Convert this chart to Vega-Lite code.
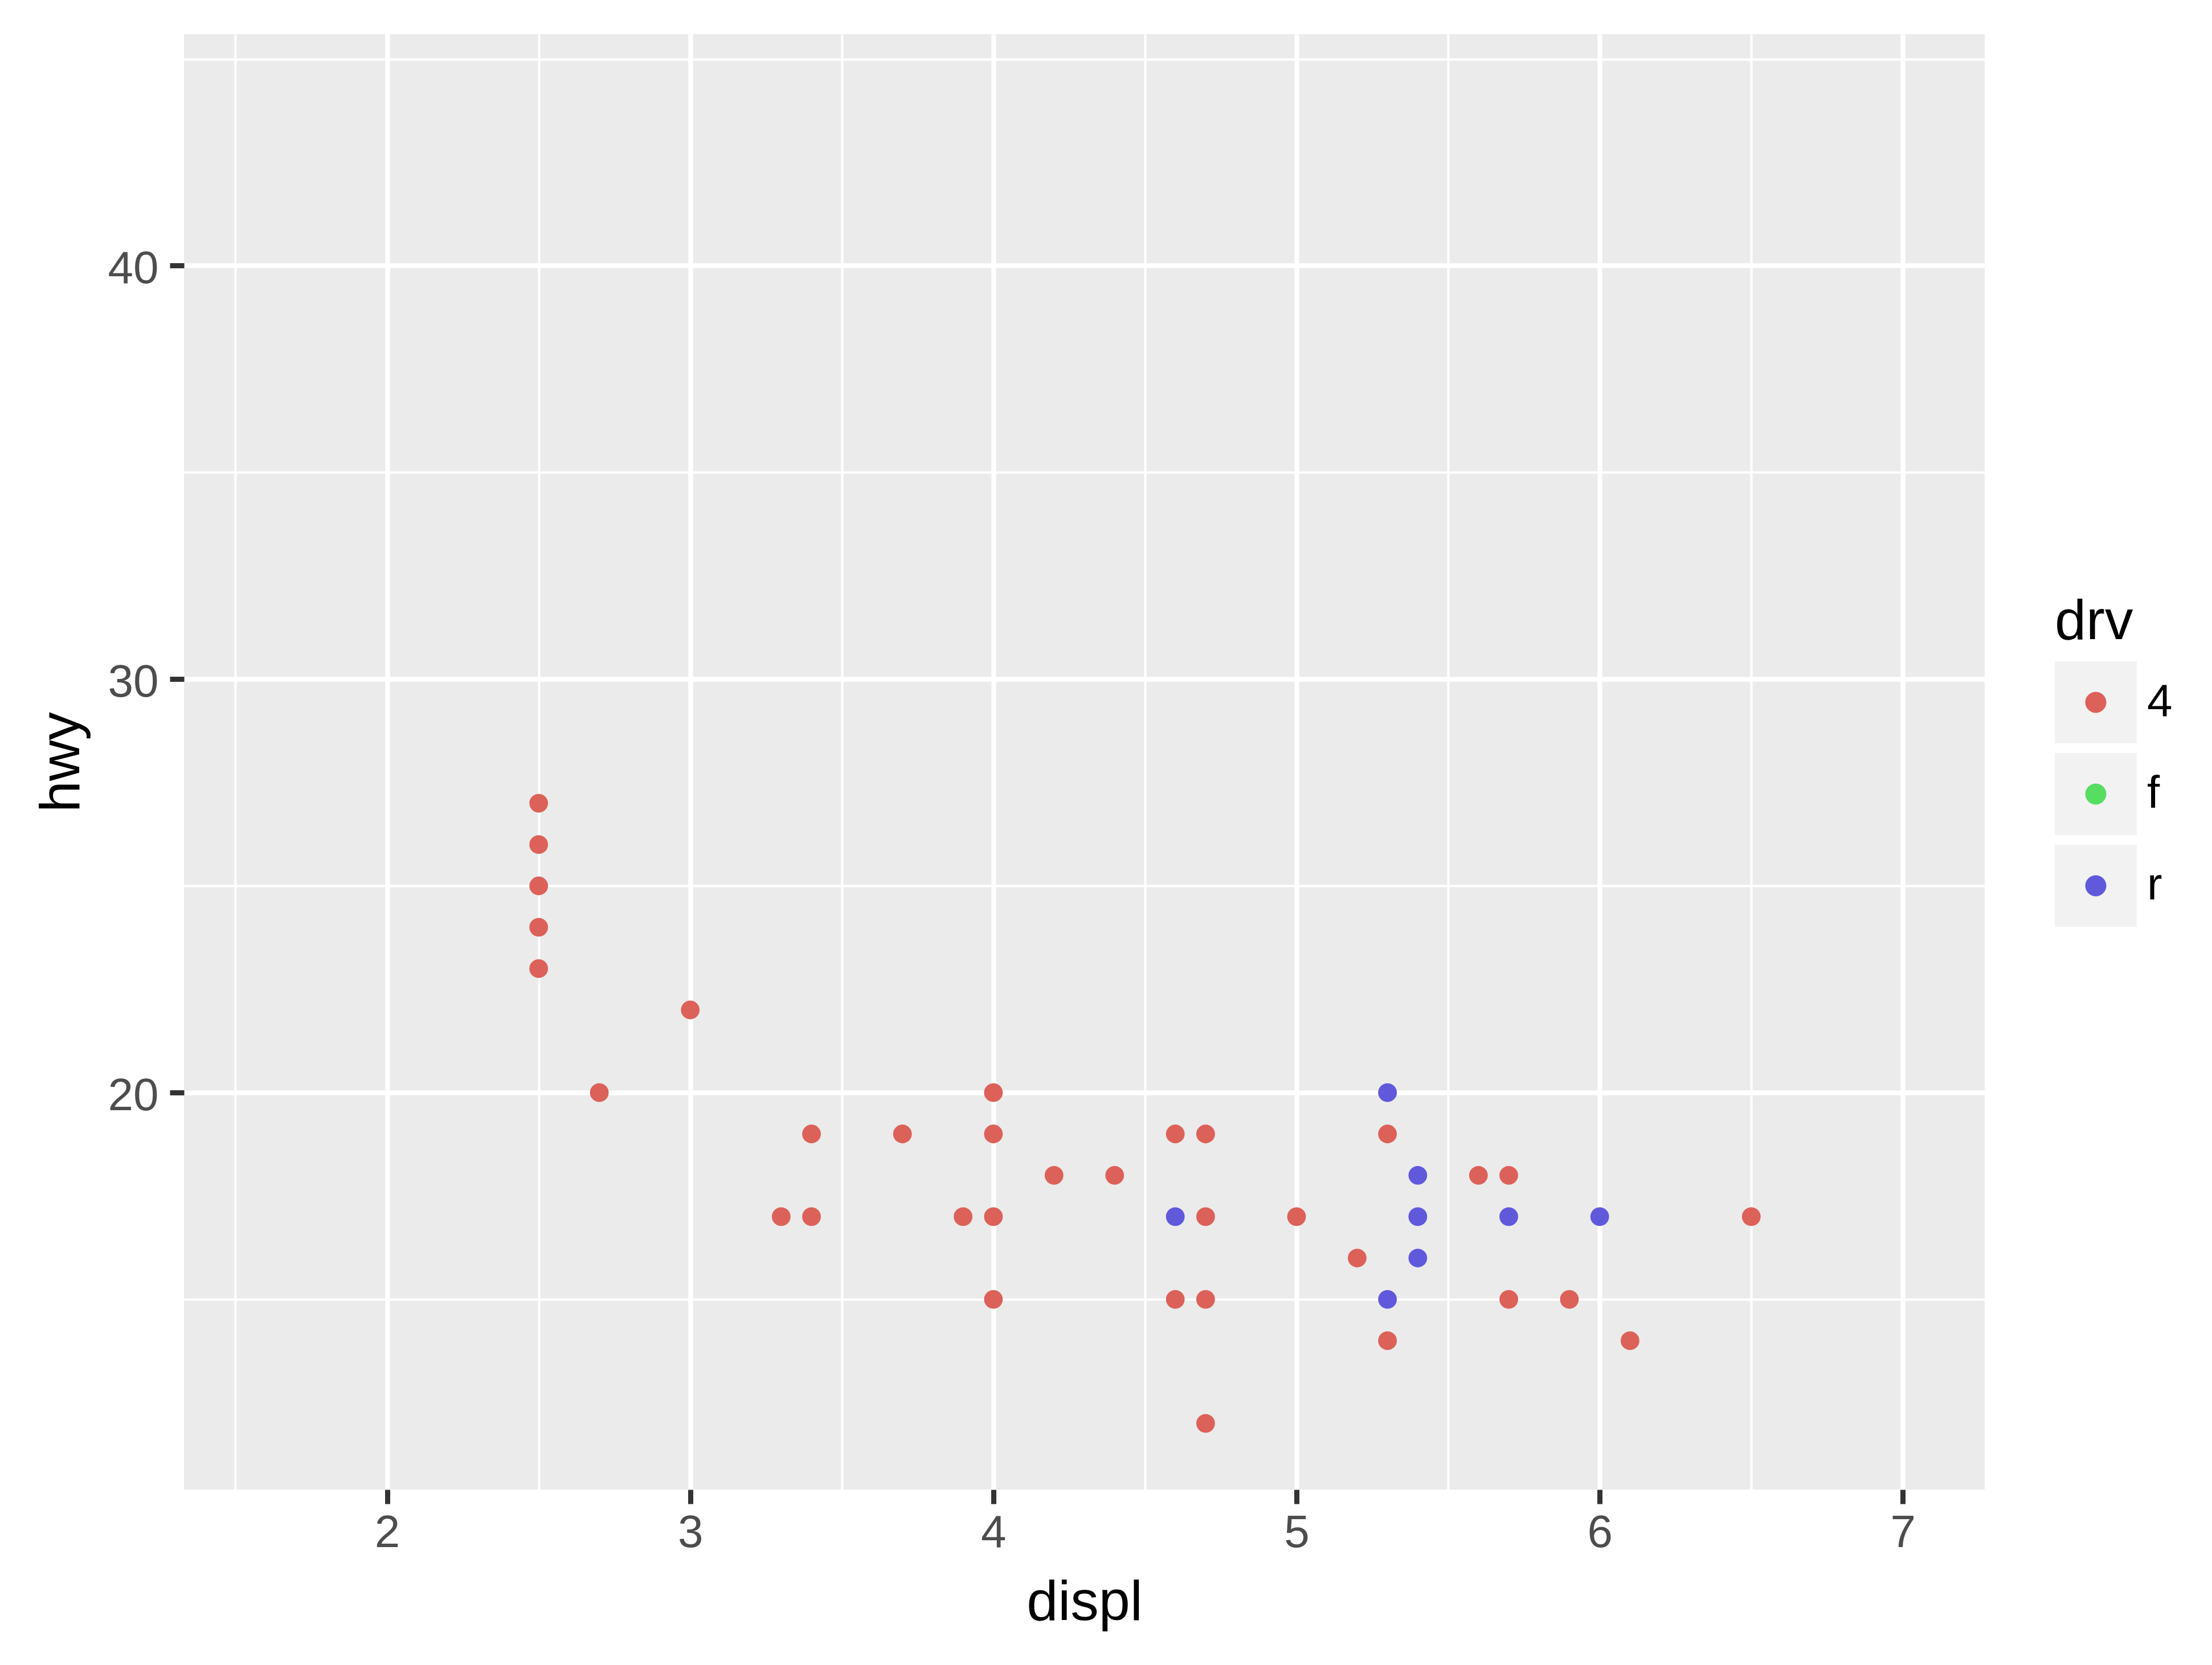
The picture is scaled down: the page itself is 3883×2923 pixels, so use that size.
{
  "$schema": "https://vega.github.io/schema/vega-lite/v6.json",
  "width": 3161,
  "height": 2555,
  "autosize": {"type": "none"},
  "padding": {"left": 323, "top": 60, "right": 399, "bottom": 308},
  "background": "#FFFFFF",
  "data": {
    "values": [
      {"drv": "4", "displ": 2.5, "hwy": 27},
      {"drv": "4", "displ": 2.5, "hwy": 26},
      {"drv": "4", "displ": 2.5, "hwy": 25},
      {"drv": "4", "displ": 2.5, "hwy": 24},
      {"drv": "4", "displ": 2.5, "hwy": 23},
      {"drv": "4", "displ": 3.0, "hwy": 22},
      {"drv": "4", "displ": 2.7, "hwy": 20},
      {"drv": "4", "displ": 3.4, "hwy": 19},
      {"drv": "4", "displ": 3.7, "hwy": 19},
      {"drv": "4", "displ": 4.0, "hwy": 20},
      {"drv": "4", "displ": 4.0, "hwy": 19},
      {"drv": "4", "displ": 3.3, "hwy": 17},
      {"drv": "4", "displ": 3.4, "hwy": 17},
      {"drv": "4", "displ": 3.9, "hwy": 17},
      {"drv": "4", "displ": 4.0, "hwy": 17},
      {"drv": "4", "displ": 4.0, "hwy": 15},
      {"drv": "4", "displ": 4.2, "hwy": 18},
      {"drv": "4", "displ": 4.4, "hwy": 18},
      {"drv": "4", "displ": 4.6, "hwy": 19},
      {"drv": "4", "displ": 4.7, "hwy": 19},
      {"drv": "4", "displ": 4.7, "hwy": 17},
      {"drv": "4", "displ": 4.6, "hwy": 15},
      {"drv": "4", "displ": 4.7, "hwy": 15},
      {"drv": "4", "displ": 4.7, "hwy": 12},
      {"drv": "4", "displ": 5.0, "hwy": 17},
      {"drv": "4", "displ": 5.2, "hwy": 16},
      {"drv": "4", "displ": 5.3, "hwy": 19},
      {"drv": "4", "displ": 5.3, "hwy": 14},
      {"drv": "4", "displ": 5.6, "hwy": 18},
      {"drv": "4", "displ": 5.7, "hwy": 18},
      {"drv": "4", "displ": 5.7, "hwy": 15},
      {"drv": "4", "displ": 5.9, "hwy": 15},
      {"drv": "4", "displ": 6.1, "hwy": 14},
      {"drv": "4", "displ": 6.5, "hwy": 17},
      {"drv": "r", "displ": 5.3, "hwy": 20},
      {"drv": "r", "displ": 5.4, "hwy": 18},
      {"drv": "r", "displ": 5.4, "hwy": 17},
      {"drv": "r", "displ": 5.4, "hwy": 16},
      {"drv": "r", "displ": 4.6, "hwy": 17},
      {"drv": "r", "displ": 5.3, "hwy": 15},
      {"drv": "r", "displ": 5.7, "hwy": 17},
      {"drv": "r", "displ": 6.0, "hwy": 17}
    ]
  },
  "layer": [
    {
      "transform": [{"filter": "false"}],
      "mark": {"type": "point", "filled": true},
      "encoding": {
        "x": {
          "field": "displ", "type": "quantitative",
          "scale": {"domain": [1.33, 7.27], "nice": false, "zero": false},
          "axis": {
            "orient": "bottom", "values": [1.5, 2.5, 3.5, 4.5, 5.5, 6.5],
            "grid": true, "gridColor": "#FFFFFF", "gridWidth": 4.2,
            "ticks": false, "labels": false, "domain": false, "title": null
          }
        },
        "y": {
          "field": "hwy", "type": "quantitative",
          "scale": {"domain": [10.4, 45.6], "nice": false, "zero": false},
          "axis": {
            "orient": "left", "values": [15, 25, 35, 45],
            "grid": true, "gridColor": "#FFFFFF", "gridWidth": 4.2,
            "ticks": false, "labels": false, "domain": false, "title": null
          }
        },
        "fill": {
          "field": "drv", "type": "nominal",
          "scale": {"domain": {"unionWith": ["4", "f", "r"]}, "range": ["#F2F2F2", "#F2F2F2", "#F2F2F2"]},
          "legend": {
            "orient": "none", "legendX": 3284, "legendY": 984,
            "title": "drv", "titleFontSize": 99, "titleFontWeight": "normal", "titleColor": "#000000",
            "titlePadding": 18,
            "symbolType": "square", "symbolSize": 20736, "symbolStrokeWidth": 0, "symbolOpacity": 1,
            "labelFontSize": 80, "labelColor": "#000000", "labelOffset": 18,
            "rowPadding": 17, "padding": 0, "zindex": 1
          }
        }
      }
    },
    {
      "mark": {"type": "point", "filled": true, "shape": "circle", "size": 1075, "opacity": 1, "strokeWidth": 0},
      "encoding": {
        "x": {
          "field": "displ", "type": "quantitative",
          "scale": {"domain": [1.33, 7.27], "nice": false, "zero": false},
          "axis": {
            "orient": "bottom", "values": [2, 3, 4, 5, 6, 7],
            "grid": true, "gridColor": "#FFFFFF", "gridWidth": 8.3,
            "ticks": true, "tickSize": 25, "tickWidth": 9, "tickColor": "#333333",
            "labels": true, "labelFontSize": 80, "labelColor": "#4D4D4D", "labelPadding": 12,
            "labelFlush": false, "labelOverlap": false,
            "domain": false,
            "title": "displ", "titleFontSize": 99, "titleFontWeight": "normal", "titleColor": "#000000",
            "titleBaseline": "alphabetic", "titleY": 228
          }
        },
        "y": {
          "field": "hwy", "type": "quantitative",
          "scale": {"domain": [10.4, 45.6], "nice": false, "zero": false},
          "axis": {
            "orient": "left", "values": [20, 30, 40],
            "grid": true, "gridColor": "#FFFFFF", "gridWidth": 8.3,
            "ticks": true, "tickSize": 25, "tickWidth": 9, "tickColor": "#333333",
            "labels": true, "labelFontSize": 80, "labelColor": "#4D4D4D", "labelPadding": 20,
            "labelOffset": 6, "labelFlush": false, "labelOverlap": false,
            "domain": false,
            "title": "hwy", "titleFontSize": 99, "titleFontWeight": "normal", "titleColor": "#000000",
            "titleBaseline": "alphabetic", "titleAngle": 270, "titleX": -185
          }
        },
        "color": {
          "field": "drv", "type": "nominal",
          "scale": {"domain": ["4", "f", "r"], "range": ["#DC6159", "#57DD62", "#6059DC"]},
          "legend": {
            "orient": "none", "legendX": 3284, "legendY": 984,
            "title": "drv", "titleFontSize": 99, "titleFontWeight": "normal", "titleColor": "transparent",
            "titlePadding": 18,
            "symbolType": "M-1,-1L-1,-1M1,1L1,1M0.257,0C0.257,0.1419,0.1419,0.257,0,0.257C-0.1419,0.257,-0.257,0.1419,-0.257,0C-0.257,-0.1419,-0.1419,-0.257,0,-0.257C0.1419,-0.257,0.257,-0.1419,0.257,0Z",
            "symbolSize": 20736, "symbolStrokeWidth": 0, "symbolOpacity": 1,
            "labelFontSize": 80, "labelColor": "transparent", "labelOffset": 18,
            "rowPadding": 17, "padding": 0, "zindex": 2
          }
        }
      }
    }
  ],
  "resolve": {"axis": {"x": "independent", "y": "independent"}},
  "config": {
    "font": "Liberation Sans",
    "view": {"fill": "#EBEBEB", "stroke": null},
    "axis": {"labelFont": "Liberation Sans", "titleFont": "Liberation Sans"},
    "legend": {"labelFont": "Liberation Sans", "titleFont": "Liberation Sans"}
  }
}
